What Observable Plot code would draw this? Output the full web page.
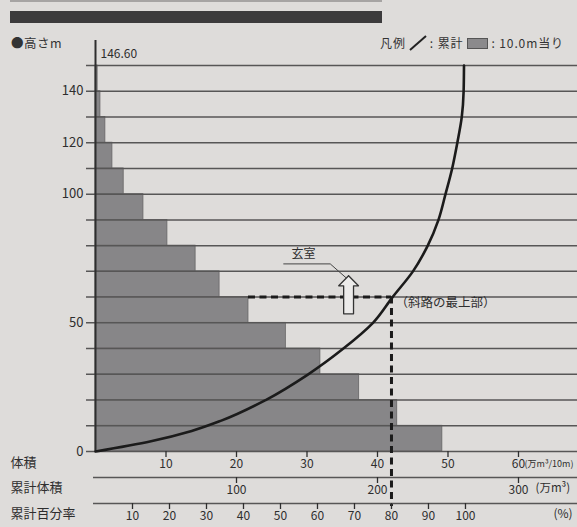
<!DOCTYPE html>
<html><head><meta charset="utf-8">
<script src="https://cdn.jsdelivr.net/npm/d3@7"></script>
<script src="https://cdn.jsdelivr.net/npm/@observablehq/plot@0.6"></script>
<style>
html,body{margin:0;padding:0;background:#dedcda;}
#wrap{position:relative;width:577px;height:527px;overflow:hidden;font-family:"Noto Sans CJK JP","Noto Sans",sans-serif;color:#333;}
#chart{position:absolute;left:0;top:0;}
#topline{position:absolute;left:10px;top:0;width:372px;height:2px;background:#a6a4a3;}
#band{position:absolute;left:10px;top:11px;width:372px;height:12px;background:#3c3b3c;}
#ylab{position:absolute;left:11px;top:36px;font-size:12.5px;line-height:14px;letter-spacing:0.5px;}
#legend{position:absolute;left:380px;top:35px;font-size:12px;line-height:14px;display:flex;align-items:center;white-space:nowrap;letter-spacing:0.9px;}
#legend .box{display:inline-block;width:19px;height:9px;background:#8b8a8c;border:1px solid #555;margin:0 3px 0 4px;}
</style></head>
<body><div id="wrap">
<div id="chart"></div>
<div id="topline"></div>
<div id="band"></div>
<div id="ylab">●高さm</div>
<div id="legend">凡例 <svg width="22" height="16" style="margin:0 1px"><path d="M3,15 Q11,8 19,1" fill="none" stroke="#222" stroke-width="2"/></svg>: 累計 <span class="box"></span>: 10.0m当り</div>
</div>
<script>
// ---- data ----
const layerBase   = [0, 10, 20, 30, 40, 50, 60, 70, 80, 90, 100, 110, 120, 130, 140];   // m
const layerTop    = [10, 20, 30, 40, 50, 60, 70, 80, 90, 100, 110, 120, 130, 140, 146.6];
const layerVolume = [49.2, 42.8, 37.4, 31.9, 27.0, 21.7, 17.6, 14.2, 10.2, 6.8, 4.0, 2.4, 1.4, 0.7, 0.3]; // 万m³ / 10m
const curveHeight  = [0, 4, 8, 12, 20, 30, 40, 50, 60, 70, 80, 90, 100, 110, 120, 130, 140, 146.6];
const curvePercent = [0, 15, 26, 34, 46, 57.5, 67, 75, 80.3, 85.8, 89.8, 92.7, 94.6, 96.4, 97.8, 99, 99.5, 99.6];
const heightTicks    = [0, 50, 100, 120, 140];
const topHeight      = 146.6;
const volumeTicks    = [10, 20, 30, 40, 50, 60];
const cumVolumeTicks = [100, 200, 300];
const percentTicks   = [10, 20, 30, 40, 50, 60, 70, 80, 90, 100];
const rampTop = {h: 60, pct: 80, label: "（斜路の最上部）"};
const chamber = {label: "玄室", x: 35.9, base: 53.5, neck: 64.4, tip: 68.3, head: 1.4, shaft: 0.7,
                 labelX: 29.5, labelY: 76.5, leader: [[26.7, 72.9], [33.3, 72.9], [35.5, 67.6]]};
// secondary axes expressed on the volume scale
const kCum = 0.2;      // 累計体積 (万m³) -> x units
const kPct = 0.5248;   // 累計百分率 (%) -> x units
// the top (partial) layer is drawn with the same row height as the others
const yStretch = h => h <= 140 ? h : 140 + (h - 140) * 10 / (topHeight - 140);

const layers = layerBase.map((b, i) => ({b, t: layerTop[i], v: layerVolume[i]}));
const curve = curveHeight.map((h, i) => ({h, p: curvePercent[i]}));
const gridHeights = [...layerBase, topHeight];
const arrowPts = [
  [chamber.x, chamber.tip], [chamber.x + chamber.head, chamber.neck], [chamber.x + chamber.shaft, chamber.neck],
  [chamber.x + chamber.shaft, chamber.base], [chamber.x - chamber.shaft, chamber.base],
  [chamber.x - chamber.shaft, chamber.neck], [chamber.x - chamber.head, chamber.neck], [chamber.x, chamber.tip]
];
const cumTickX = cumVolumeTicks.map(v => v * kCum);
const pctTickX = percentTicks.map(p => p * kPct);

const ink = "#2e2e2e", grid = "#575656";
const tickRule = (data, dy) => Plot.ruleX(data, {x: d => d, y1: 0, y2: 0, insetBottom: -6, dy, stroke: ink, strokeWidth: 1.3});
const chart = Plot.plot({
  width: 577, height: 527,
  marginLeft: 95, marginRight: 0, marginTop: 65, marginBottom: 76,
  style: {background: "transparent", fontFamily: "'Noto Sans CJK JP','Noto Sans',sans-serif", fontSize: "12px", color: "#333"},
  x: {domain: [0, 68.37]},
  y: {domain: [0, 150], transform: yStretch},
  marks: [
    Plot.rectX(layers, {x1: 0, x2: "v", y1: "b", y2: "t", fill: "#878688", stroke: "#666566", strokeWidth: 0.8}),
    Plot.ruleY(gridHeights, {stroke: grid, strokeWidth: 1.5, insetLeft: -9}),
    Plot.ruleX([0], {y1: topHeight, y2: 0, insetTop: -25, stroke: ink, strokeWidth: 2}),
    Plot.axisY({ticks: heightTicks, tickSize: 0, tickPadding: 12, label: null, fontSize: 13, fill: ink}),
    Plot.text([topHeight], {x: 0, y: d => d, text: d => d.toFixed(2), dx: 5, dy: -11, textAnchor: "start", fontSize: 12, fill: ink}),
    Plot.line(curve, {x: d => d.p * kPct, y: "h", curve: "monotone-y", stroke: "#1b1b1b", strokeWidth: 2.6}),
    Plot.ruleY([rampTop], {y: "h", x1: layerVolume[5], x2: d => d.pct * kPct, stroke: "#1b1b1b", strokeWidth: 3, strokeDasharray: "7,4.5"}),
    Plot.ruleX([rampTop], {x: d => d.pct * kPct, y1: "h", y2: 0, insetBottom: -55, stroke: "#1b1b1b", strokeWidth: 3, strokeDasharray: "7,4.5"}),
    Plot.text([rampTop], {x: d => d.pct * kPct, y: "h", text: "label", dx: 4, dy: 6, textAnchor: "start", fontSize: 12.5, fill: ink}),
    Plot.line(arrowPts, {x: d => d[0], y: d => d[1], fill: "#ecebea", stroke: "#333", strokeWidth: 1.3}),
    Plot.line(chamber.leader, {x: d => d[0], y: d => d[1], stroke: "#444", strokeWidth: 1}),
    Plot.text([chamber], {x: "labelX", y: "labelY", text: "label", fontSize: 12, fill: ink}),
    // bottom axes
    tickRule(volumeTicks, 0),
    Plot.axisX({ticks: volumeTicks, anchor: "bottom", tickSize: 0, tickPadding: 8, label: null, fontSize: 12, fill: ink}),
    Plot.ruleY([0], {dy: 26, insetLeft: -2, stroke: grid, strokeWidth: 1.5}),
    tickRule(cumTickX, 26),
    Plot.axisX({ticks: cumTickX, tickFormat: d => String(Math.round(d / kCum)), anchor: "bottom", dy: 26, tickSize: 0, tickPadding: 8, label: null, fontSize: 12, fill: ink}),
    Plot.ruleY([0], {dy: 52, insetLeft: -2, stroke: grid, strokeWidth: 1.5}),
    tickRule(pctTickX, 52),
    Plot.axisX({ticks: pctTickX, tickFormat: d => String(Math.round(d / kPct)), anchor: "bottom", dy: 52, tickSize: 0, tickPadding: 8, label: null, fontSize: 12, fill: ink}),
    Plot.text(["体積"], {text: d => d, frameAnchor: "bottom-left", dx: -85, dy: 15, textAnchor: "start", fontSize: 13, fill: ink}),
    Plot.text(["累計体積"], {text: d => d, frameAnchor: "bottom-left", dx: -85, dy: 40, textAnchor: "start", fontSize: 13, fill: ink}),
    Plot.text(["累計百分率"], {text: d => d, frameAnchor: "bottom-left", dx: -85, dy: 66, textAnchor: "start", fontSize: 13, fill: ink}),
    Plot.text(["(万m³/10m)"], {text: d => d, frameAnchor: "bottom-left", dx: 429, dy: 15, textAnchor: "start", fontSize: 9, letterSpacing: "-0.4px", fill: ink}),
    Plot.text(["(万m³)"], {text: d => d, frameAnchor: "bottom-left", dx: 440, dy: 40, textAnchor: "start", fontSize: 11.5, fill: ink}),
    Plot.text(["(%)"], {text: d => d, frameAnchor: "bottom-left", dx: 458, dy: 66, textAnchor: "start", fontSize: 12, fill: ink})
  ]
});
document.getElementById("chart").appendChild(chart);
</script>
</body></html>
